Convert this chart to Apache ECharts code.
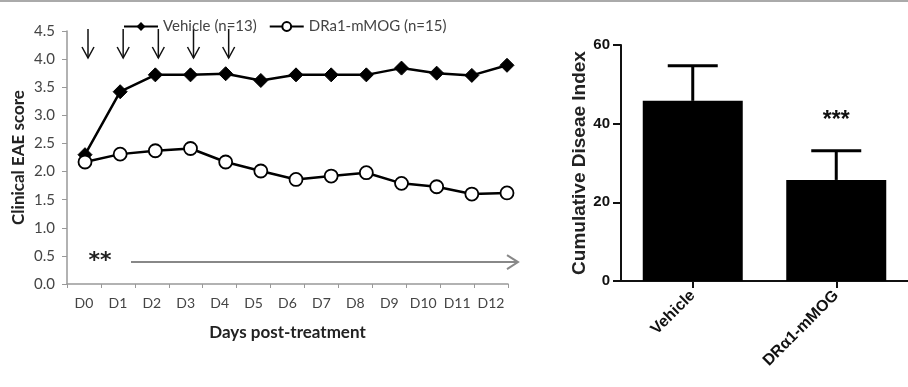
<!DOCTYPE html>
<html>
<head>
<meta charset="utf-8">
<script src="https://cdn.jsdelivr.net/npm/echarts@6/dist/echarts.min.js"></script>
<style>
html,body{margin:0;padding:0;background:#fff;}
#c{width:908px;height:387px;}
</style>
</head>
<body>
<div id="c"></div>
<script>
// ---- data ----
var days = ['D0','D1','D2','D3','D4','D5','D6','D7','D8','D9','D10','D11','D12'];
var vehicle = [2.3, 3.42, 3.72, 3.72, 3.74, 3.62, 3.72, 3.72, 3.72, 3.84, 3.75, 3.71, 3.89];
var dra = [2.17, 2.31, 2.37, 2.41, 2.17, 2.01, 1.86, 1.92, 1.98, 1.79, 1.73, 1.6, 1.62];
var yTicksLeft = [0, 4.5, 0.5];
var treatmentDays = ['D0','D1','D2','D3','D4'];
var groups = ['Vehicle', 'DR\u03b11-mMOG'];
var cdiMean = [45.8, 25.7];
var cdiUpper = [54.7, 33.1];
var cdiSig = ['', '***'];
var yTicksRight = [0, 60, 20];

var chart = echarts.init(document.getElementById('c'));
var leftFont = 'Lato, "Open Sans", sans-serif';
var rightFont = '"Liberation Sans", Arial, sans-serif';

var option = {
  animation: false,
  backgroundColor: '#fff',
  legend: {
    left: 118, top: 14,
    itemWidth: 34, itemHeight: 11, itemGap: 12,
    textStyle: {fontFamily: leftFont, fontSize: 15, color: '#444'},
    data: ['Vehicle (n=13)', 'DRa1-mMOG (n=15)']
  },
  grid: [
    {left: 67, right: 400, top: 31, bottom: 103},
    {left: 621, right: -12, top: 45, bottom: 106},
    {left: 85, right: 401, top: 31, bottom: 103}
  ],
  xAxis: [
    {type: 'category', gridIndex: 0, data: days, boundaryGap: true,
     axisLine: {lineStyle: {color: '#999', width: 1.5}},
     axisTick: {show: true, length: 4, interval: 0, lineStyle: {color: '#999'}},
     axisLabel: {fontFamily: leftFont, fontSize: 14, color: '#444', margin: 12, interval: 0},
     name: 'Days post-treatment', nameLocation: 'middle', nameGap: 40,
     nameTextStyle: {fontFamily: leftFont, fontSize: 17, fontWeight: 'bold', color: '#222'}},
    {type: 'category', gridIndex: 1, data: groups,
     axisLine: {lineStyle: {color: '#111', width: 2}},
     axisTick: {show: true, alignWithLabel: true, length: 7, lineStyle: {color: '#111', width: 2}},
     axisLabel: {fontFamily: rightFont, fontSize: 16, fontWeight: 'bold', color: '#111', rotate: 45, margin: 12, interval: 0}},
    {type: 'category', gridIndex: 2, data: days, boundaryGap: false, show: false}
  ],
  yAxis: [
    {type: 'value', gridIndex: 0, min: yTicksLeft[0], max: yTicksLeft[1], interval: yTicksLeft[2],
     splitLine: {show: false},
     axisLine: {show: true, lineStyle: {color: '#999', width: 1.5}},
     axisTick: {show: true, length: 5, lineStyle: {color: '#999'}},
     axisLabel: {fontFamily: leftFont, fontSize: 15, color: '#444', margin: 12,
       formatter: function (v) { return v.toFixed(1); }},
     name: 'Clinical EAE score', nameLocation: 'middle', nameGap: 40,
     nameTextStyle: {fontFamily: leftFont, fontSize: 17, fontWeight: 'bold', color: '#222'}},
    {type: 'value', gridIndex: 1, min: yTicksRight[0], max: yTicksRight[1], interval: yTicksRight[2],
     splitLine: {show: false},
     axisLine: {show: true, lineStyle: {color: '#111', width: 2}},
     axisTick: {show: true, length: 8, lineStyle: {color: '#111', width: 2}},
     axisLabel: {fontFamily: rightFont, fontSize: 15, fontWeight: 'bold', color: '#111', margin: 11},
     name: 'Cumulative Diseae Index', nameLocation: 'middle', nameGap: 20,
     nameTextStyle: {fontFamily: rightFont, fontSize: 19, fontWeight: 'bold', color: '#222'}},
    {type: 'value', gridIndex: 2, min: yTicksLeft[0], max: yTicksLeft[1], show: false}
  ],
  series: [
    {name: 'Vehicle (n=13)', type: 'line', xAxisIndex: 2, yAxisIndex: 2, data: vehicle,
     symbol: 'diamond', symbolSize: 14,
     lineStyle: {color: '#000', width: 2.5},
     itemStyle: {color: '#000', borderColor: '#000'}},
    {name: 'DRa1-mMOG (n=15)', type: 'line', xAxisIndex: 2, yAxisIndex: 2, data: dra,
     symbol: 'circle', symbolSize: 13,
     lineStyle: {color: '#000', width: 2.5},
     itemStyle: {color: '#fff', borderColor: '#000', borderWidth: 1.8}},
    {type: 'bar', xAxisIndex: 1, yAxisIndex: 1, data: cdiMean, barWidth: 100,
     itemStyle: {color: '#000'}},
    {type: 'custom', xAxisIndex: 1, yAxisIndex: 1,
     data: cdiMean.map(function (m, i) { return [i, m, cdiUpper[i]]; }),
     renderItem: function (params, api) {
       var i = api.value(0);
       var p0 = api.coord([i, api.value(1)]);
       var p1 = api.coord([i, api.value(2)]);
       var children = [
         {type: 'line', shape: {x1: p0[0], y1: p0[1], x2: p1[0], y2: p1[1]}, style: {stroke: '#000', lineWidth: 3}},
         {type: 'line', shape: {x1: p1[0] - 25, y1: p1[1], x2: p1[0] + 25, y2: p1[1]}, style: {stroke: '#000', lineWidth: 3}}
       ];
       if (cdiSig[i]) {
         children.push({type: 'text', style: {text: cdiSig[i], x: p1[0], y: p1[1] - 30,
           textAlign: 'center', textVerticalAlign: 'middle', fontFamily: rightFont, fontSize: 23, fontWeight: 'bold', fill: '#111'}});
       }
       return {type: 'group', children: children};
     }}
  ]
};
chart.setOption(option);

// annotation arrows tied to the line axis
var g = [];
g.push({type: 'line', shape: {x1: 0, y1: 1, x2: 908, y2: 1}, style: {stroke: '#aaa', lineWidth: 2}});
treatmentDays.forEach(function (d) {
  var top = chart.convertToPixel({xAxisIndex: 2, yAxisIndex: 2}, [d, 4.5]);
  var bot = chart.convertToPixel({xAxisIndex: 2, yAxisIndex: 2}, [d, 4.02]);
  var x = top[0] + 3;
  g.push({type: 'line', shape: {x1: x, y1: top[1] - 2, x2: x, y2: bot[1]}, style: {stroke: '#111', lineWidth: 1.5}});
  g.push({type: 'polyline', shape: {points: [[x - 6, bot[1] - 11], [x, bot[1]], [x + 6, bot[1] - 11]]}, style: {stroke: '#111', lineWidth: 1.5, fill: null}});
});
var ay = chart.convertToPixel({yAxisIndex: 0}, 0.39);
g.push({type: 'line', shape: {x1: 131, y1: ay, x2: 518, y2: ay}, style: {stroke: '#888', lineWidth: 2}});
g.push({type: 'polyline', shape: {points: [[507, ay - 7], [518, ay], [507, ay + 7]]}, style: {stroke: '#888', lineWidth: 2, fill: null}});
g.push({type: 'text', style: {text: '**', x: 100, y: ay - 1, textAlign: 'center', textVerticalAlign: 'middle',
  fontFamily: 'DejaVu Sans, sans-serif', fontSize: 22, fontWeight: 'bold', fill: '#222'}});
chart.setOption({graphic: g});
</script>
</body>
</html>
